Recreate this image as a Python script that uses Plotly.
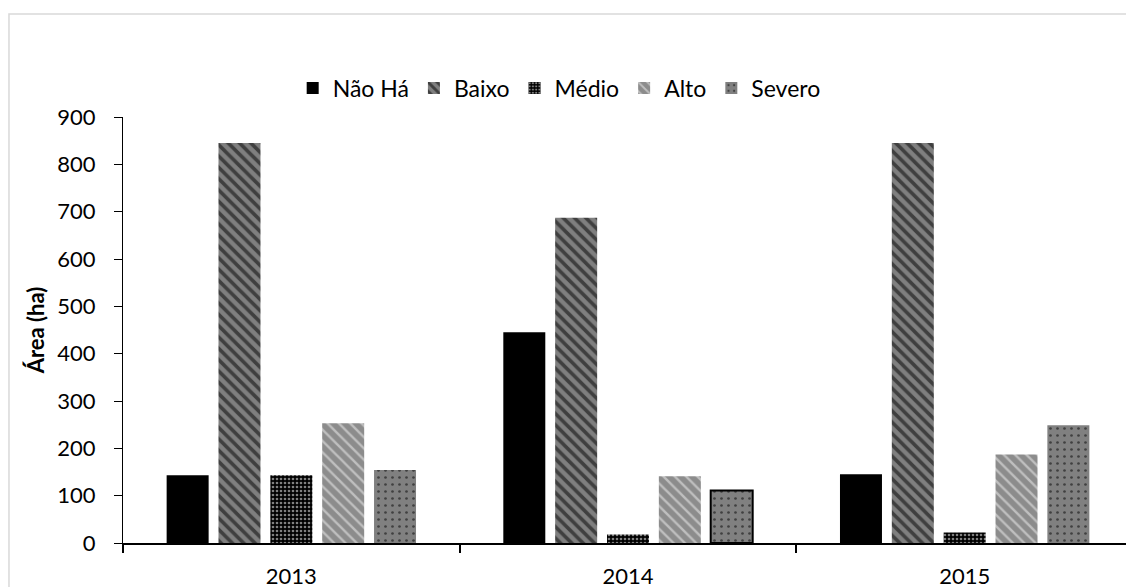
import plotly.graph_objects as go

years = ["2013", "2014", "2015"]
series_names = ["Não Há", "Baixo", "Médio", "Alto", "Severo"]
nao_ha = [143, 445, 145]
baixo = [845, 687, 845]
medio = [143, 18, 22]
alto = [253, 141, 187]
severo = [154, 111, 249]
y_ticks = [0, 100, 200, 300, 400, 500, 600, 700, 800, 900]

values = [nao_ha, baixo, medio, alto, severo]

styles = [
    dict(color="#000000"),
    dict(color="#7f7f7f", pattern=dict(shape="\\", fgcolor="#000000", bgcolor="#7f7f7f", size=8, solidity=0.45)),
    dict(color="#000000", pattern=dict(shape=".", fgcolor="#ffffff", bgcolor="#000000", size=4, solidity=0.35)),
    dict(color="#999999", pattern=dict(shape="\\", fgcolor="#f2f2f2", bgcolor="#8c8c8c", size=8, solidity=0.3)),
    dict(color="#808080", pattern=dict(shape=".", fgcolor="#000000", bgcolor="#808080", size=7, solidity=0.12)),
]
line_widths = [
    [0, 0, 0],
    [0, 0, 0],
    [0, 0, 0],
    [0, 0, 0],
    [0, 2, 0],
]

FONT = "Lato, 'Open Sans', sans-serif"

fig = go.Figure()
for name, vals, st, lw in zip(series_names, values, styles, line_widths):
    marker = dict(st)
    marker["line"] = dict(color="#000000", width=lw)
    fig.add_trace(go.Bar(name=name, x=years, y=vals, marker=marker))

fig.update_layout(
    width=1126,
    height=579,
    paper_bgcolor="white",
    plot_bgcolor="white",
    barmode="group",
    bargap=0.23,
    bargroupgap=0.19,
    margin=dict(l=115, r=1, t=109, b=44, autoexpand=False),
    font=dict(family=FONT, size=22, color="#000000"),
    legend=dict(
        orientation="h",
        x=0.168,
        xanchor="left",
        y=1.068,
        yanchor="middle",
        font=dict(family=FONT, size=23, color="#000000"),
        bgcolor="rgba(0,0,0,0)",
        itemwidth=30,
        tracegroupgap=0,
    ),
    shapes=[
        dict(type="rect", xref="paper", yref="paper", x0=-0.1129, x1=1.05, y0=-0.3, y1=1.2418,
             line=dict(color="#d9d9d9", width=1.5), fillcolor="rgba(0,0,0,0)", layer="below"),
    ],
)

fig.update_xaxes(
    type="category",
    tickson="boundaries",
    ticks="outside",
    ticklen=8,
    tickcolor="#000000",
    tickwidth=1.5,
    showline=True,
    linecolor="#000000",
    linewidth=2,
    showgrid=False,
    zeroline=False,
    automargin=False,
    tickfont=dict(family=FONT, size=22, color="#000000"),
    ticklabelstandoff=13,
)

fig.update_yaxes(
    range=[0, 900],
    tickmode="array",
    tickvals=y_ticks,
    ticktext=[str(v) for v in y_ticks],
    ticks="outside",
    ticklen=8,
    tickcolor="#000000",
    showline=True,
    linecolor="#000000",
    linewidth=1.2,
    showgrid=False,
    zeroline=False,
    automargin=False,
    tickfont=dict(family=FONT, size=22, color="#000000"),
    ticklabelstandoff=14,
    title=dict(text="<b>Área (ha)</b>", font=dict(family=FONT, size=22, color="#000000"), standoff=6),
)

fig.write_html("out.html")
